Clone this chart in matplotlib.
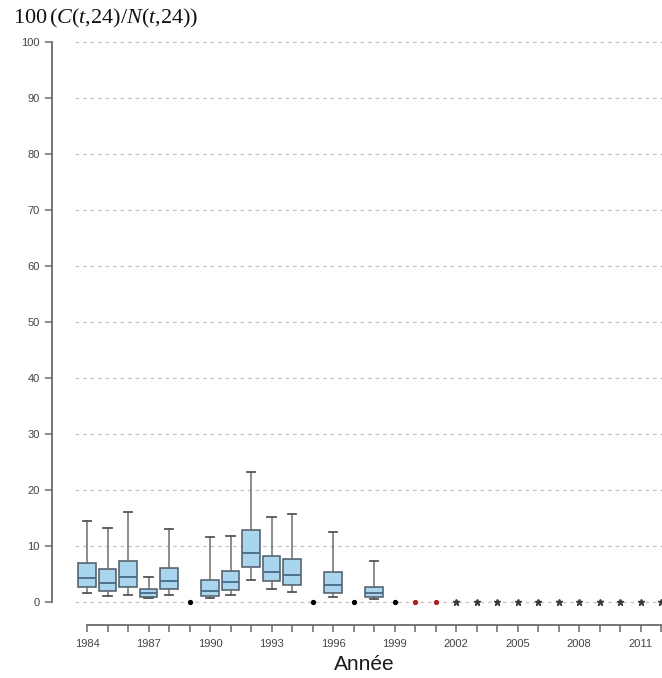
import matplotlib
matplotlib.use("Agg")
import matplotlib.pyplot as plt
import numpy as np

# ---- data ----
box_years = [1984, 1985, 1986, 1987, 1988, 1990, 1991, 1992, 1993, 1994, 1996, 1998]
whislo = [1.55, 1.1, 1.3, 0.65, 1.3, 0.65, 1.3, 3.9, 2.3, 1.8, 0.9, 0.55]
q1     = [2.7, 2.0, 2.6, 0.95, 2.3, 1.1, 2.15, 6.2, 3.75, 3.0, 1.6, 0.85]
med    = [4.3, 3.45, 4.4, 1.7, 3.8, 2.0, 3.5, 8.8, 5.4, 4.75, 3.0, 1.7]
q3     = [7.0, 5.9, 7.3, 2.3, 6.1, 3.9, 5.6, 12.9, 8.2, 7.7, 5.3, 2.7]
whishi = [14.5, 13.3, 16.1, 4.5, 13.0, 11.55, 11.85, 23.3, 15.2, 15.7, 12.55, 7.3]

zero_black = [1989, 1995, 1997, 1999]
zero_red = [2000, 2001]
zero_star = [2002, 2003, 2004, 2005, 2006, 2007, 2008, 2009, 2010, 2011, 2012]

yticks = list(range(0, 101, 10))
xticks_all = list(range(1984, 2013))
xtick_labels = [str(y) if (y - 1984) % 3 == 0 else "" for y in xticks_all]

# ---- fonts ----
plt.rcParams['font.family'] = ['Liberation Sans', 'DejaVu Sans']
plt.rcParams['mathtext.fontset'] = 'custom'
plt.rcParams['mathtext.rm'] = 'Liberation Serif'
plt.rcParams['mathtext.it'] = 'Liberation Serif:italic'

fig = plt.figure(figsize=(6.62, 6.78), dpi=100)
ax = fig.add_axes([52/662, 1 - 625/678, 610/662, 587/678])

x_left = 1984 - 35/20.5
x_right = x_left + 610/20.5
ax.set_xlim(x_left, x_right)
ax.set_ylim(-4.1, 100.7)

# grid lines
ax.hlines(yticks, 1983.4, x_right, colors='#c4c4c4', linestyles=(0, (3, 3)), linewidth=0.9, zorder=0)

# boxes
stats = []
for i in range(len(box_years)):
    stats.append(dict(med=med[i], q1=q1[i], q3=q3[i], whislo=whislo[i], whishi=whishi[i], fliers=[]))
ax.bxp(stats, positions=box_years, widths=0.85, patch_artist=True, showfliers=False,
       boxprops=dict(facecolor='#a9d6ee', edgecolor='#4d5a66', linewidth=1.1),
       medianprops=dict(color='#4a6a88', linewidth=1.3),
       whiskerprops=dict(color='#6e6e6e', linewidth=1.1, linestyle='-'),
       capprops=dict(color='#555555', linewidth=1.3),
       capwidths=0.4, manage_ticks=False, zorder=3)

# zero markers
ax.plot(zero_black, [0]*len(zero_black), 'o', color='black', markersize=2.8, zorder=4)
ax.plot(zero_red, [0]*len(zero_red), 'o', color='#b02020', markersize=2.8, zorder=4)
ax.plot(zero_star, [0]*len(zero_star), '*', color='#3a3a3a', markersize=5, zorder=4, clip_on=False)

# spines
for s in ['top', 'right']:
    ax.spines[s].set_visible(False)
ax.spines['left'].set_bounds(0, 100)
ax.spines['bottom'].set_bounds(1984, 2012)
for s in ['left', 'bottom']:
    ax.spines[s].set_color('#6a6a6a')
    ax.spines[s].set_linewidth(1.3)

ax.set_yticks(yticks)
ax.set_yticklabels([str(v) for v in yticks])
ax.set_xticks(xticks_all)
ax.set_xticklabels(xtick_labels)
ax.tick_params(axis='both', colors='#6a6a6a', labelcolor='#444444', labelsize=8, length=5, width=1.1)
ax.tick_params(axis='y', pad=4)
ax.tick_params(axis='x', pad=5)

ax.set_xlabel("Année", fontsize=15, color='#1a1a1a')
ax.xaxis.set_label_coords((364 - 52) / 610, -(664 - 625) / 587, transform=ax.transAxes)
ax.xaxis.label.set_va('center')

fig.text(13/662, 1 - 23/678, r"$100\,(C(t{,}24)/N(t{,}24))$", fontsize=16, color='#111111',
         ha='left', va='baseline')

fig.savefig("out.png", dpi=100)
